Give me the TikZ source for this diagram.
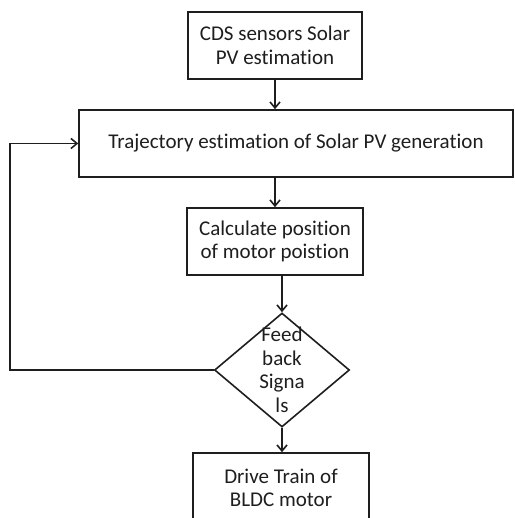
\documentclass[tikz,border=0pt]{standalone}
\usepackage{fontspec}
\setmainfont[Ligatures=NoCommon]{Carlito}
\usetikzlibrary{positioning}
\usetikzlibrary{arrows.meta}
\usetikzlibrary{shapes.geometric}
\definecolor{ink}{RGB}{30, 30, 30}

\begin{document}
\begin{tikzpicture}[
  x=1pt, y=-1pt,
  font=\fontsize{21}{23.5}\selectfont,
  box/.style={draw=ink, line width=1.6pt, fill=white, minimum height=67pt,
              inner sep=0pt, align=center, text=ink},
  dec/.style={draw=ink, line width=1.6pt, diamond, minimum width=135pt,
              minimum height=114pt, inner sep=0pt},
  ar/.style={-{Straight Barb[length=6pt, width=10pt]}, draw=ink, line width=1.6pt}
]
\useasboundingbox (0,0) rectangle (514,518);
\clip (0,0) rectangle (514,518);

\node[box, minimum width=174pt] (cds)   at (275,45.5) {CDS sensors Solar\\PV estimation};
\node[box, minimum width=434pt] (traj)  at (296,143.5) {Trajectory estimation of Solar PV generation};
\node[box, minimum width=176pt] (calc)  at (275,241.5) {Calculate position\\of motor poistion};
\node[dec] (fb) at (282,370) {};
\node[align=center, text=ink, inner sep=0pt] (fbtext) at (fb.center) {Feed\\back\\Signa\\ls};
\node[box, minimum width=176pt, minimum height=70pt] (drive) at (281,488) {Drive Train of\\BLDC motor};

\draw[ar] (cds.south) -- (cds.south |- traj.north);
\draw[ar] (calc.north |- traj.south) -- (calc.north);
\draw[ar] (fb.north |- calc.south) -- (fb.north);
\draw[ar] (fb.south) -- (fb.south |- drive.north);

\coordinate (back) at (10,370);
\draw[ar] (fb.west) -- (back) |- (traj.west);
\end{tikzpicture}
\end{document}
